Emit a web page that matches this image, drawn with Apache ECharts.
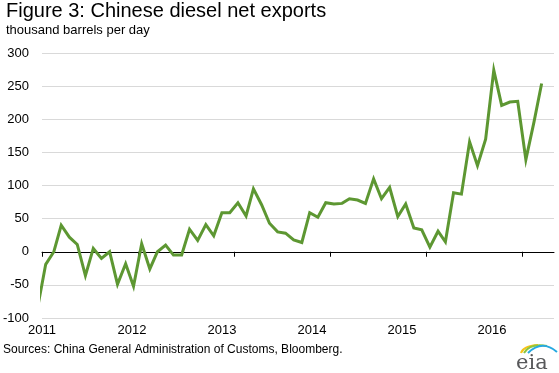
<!DOCTYPE html>
<html>
<head>
<meta charset="utf-8">
<script src="https://cdn.jsdelivr.net/npm/echarts@6/dist/echarts.min.js"></script>
<style>
  html, body { margin: 0; padding: 0; background: #fff; }
  #chart { width: 559px; height: 373px; }
</style>
</head>
<body>
<div id="chart"></div>
<script>
// Monthly observations (mid-month), thousand barrels per day
const months = [
  '2010-12',
  '2011-01','2011-02','2011-03','2011-04','2011-05','2011-06','2011-07','2011-08','2011-09','2011-10','2011-11','2011-12',
  '2012-01','2012-02','2012-03','2012-04','2012-05','2012-06','2012-07','2012-08','2012-09','2012-10','2012-11','2012-12',
  '2013-01','2013-02','2013-03','2013-04','2013-05','2013-06','2013-07','2013-08','2013-09','2013-10','2013-11','2013-12',
  '2014-01','2014-02','2014-03','2014-04','2014-05','2014-06','2014-07','2014-08','2014-09','2014-10','2014-11','2014-12',
  '2015-01','2015-02','2015-03','2015-04','2015-05','2015-06','2015-07','2015-08','2015-09','2015-10','2015-11','2015-12',
  '2016-01','2016-02','2016-03'
];
const netExports = [
  -85,
  -19, 0, 40, 22, 11, -36, 5, -10, 0, -49, -18, -52,
  12, -26, 0, 10, -5, -5, 34, 17, 41, 24, 59, 59,
  74, 54, 95, 71, 43, 30, 28, 18, 14, 59, 52, 74,
  72, 73, 80, 78, 73, 110, 80, 97, 53, 72, 36, 33,
  7, 31, 15, 89, 87, 166, 130, 170, 274, 221, 226, 227,
  139, 196, 254
];
const yearLabels = ['2011', '2012', '2013', '2014', '2015', '2016'];
const yTicks = [-100, -50, 0, 50, 100, 150, 200, 250, 300];

const titleText = 'Figure 3: Chinese diesel net exports';
const unitText = 'thousand barrels per day';
const sourceText = 'Sources: China General Administration of Customs, Bloomberg.';

const seriesData = months.map((m, i) => [m + '-15', netExports[i]]);

const chart = echarts.init(document.getElementById('chart'), null, { renderer: 'canvas' });
chart.setOption({
  animation: false,
  backgroundColor: '#ffffff',
  textStyle: { fontFamily: '"Liberation Sans", Arial, sans-serif' },
  grid: { left: 40, right: 5, top: 53, bottom: 55, containLabel: false },
  xAxis: [
    {
      type: 'time',
      min: yearLabels[0] + '-01-01',
      max: '2016-05-01',
      splitNumber: 5,
      axisLine: { show: true, onZero: true, lineStyle: { color: '#000', width: 1 } },
      axisTick: { show: true, length: 5, lineStyle: { color: '#000', width: 1 } },
      axisLabel: { show: true, formatter: function () { return ''; } },
      splitLine: { show: false }
    },
    {
      type: 'value',
      position: 'bottom',
      min: 2011,
      max: 2016.69,
      interval: 1,
      axisLine: { show: false, onZero: false },
      axisTick: { show: false },
      splitLine: { show: false },
      axisLabel: {
        show: true,
        margin: 6,
        color: '#000',
        fontSize: 13,
        fontFamily: '"Liberation Sans", Arial, sans-serif',
        formatter: function (v) { const s = yearLabels[Math.round(v) - 2011]; return (Math.abs(v - Math.round(v)) < 1e-6 && s) ? s : ''; }
      }
    }
  ],
  yAxis: {
    type: 'value',
    min: yTicks[0],
    max: yTicks[yTicks.length - 1],
    interval: 50,
    axisLine: { show: false },
    axisTick: { show: false },
    axisLabel: { color: '#000', fontSize: 13, margin: 13, fontFamily: '"Liberation Sans", Arial, sans-serif' },
    splitLine: { show: true, lineStyle: { color: '#d9d9d9', width: 1 } }
  },
  series: [
    {
      type: 'line',
      xAxisIndex: 0,
      data: seriesData,
      showSymbol: false,
      symbol: 'none',
      clip: true,
      lineStyle: { color: '#5d9732', width: 3, join: 'miter' },
      itemStyle: { color: '#5d9732' }
    }
  ],
  graphic: [
    { type: 'text', left: 6, top: 1, style: { text: titleText, fill: '#000', font: '20px "Liberation Sans", Arial, sans-serif' } },
    { type: 'text', left: 6, top: 24, style: { text: unitText, fill: '#000', font: '13px "Liberation Sans", Arial, sans-serif' } },
    { type: 'text', left: 3, top: 344, style: { text: sourceText, fill: '#000', font: '12px "Liberation Sans", Arial, sans-serif' } },
    { type: 'text', left: 516, top: 353, style: { text: 'eia', fill: '#58595b', font: '21px "DejaVu Serif", serif' } },
    { type: 'bezierCurve', shape: { x1: 521, y1: 353, cpx1: 523, cpy1: 346, x2: 538, y2: 345 }, style: { stroke: '#f6c319', lineWidth: 2, fill: 'none' } },
    { type: 'bezierCurve', shape: { x1: 524, y1: 353, cpx1: 530, cpy1: 343, x2: 547, y2: 346 }, style: { stroke: '#8cc63f', lineWidth: 2, fill: 'none' } },
    { type: 'bezierCurve', shape: { x1: 528, y1: 353, cpx1: 542, cpy1: 339, x2: 557, y2: 352 }, style: { stroke: '#27a9e1', lineWidth: 2, fill: 'none' } }
  ]
});
</script>
</body>
</html>
